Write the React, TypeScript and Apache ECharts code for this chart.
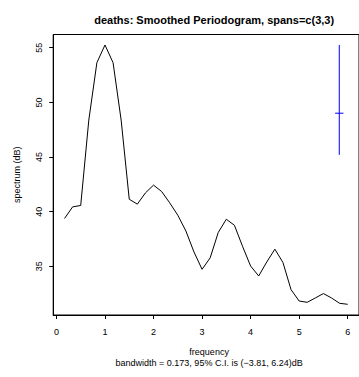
import React, { useEffect, useRef } from "react";
import * as echarts from "echarts";

const freq = [
  0.1667, 0.3333, 0.5, 0.6667, 0.8333, 1.0, 1.1667, 1.3333, 1.5, 1.6667, 1.8333, 2.0,
  2.1667, 2.3333, 2.5, 2.6667, 2.8333, 3.0, 3.1667, 3.3333, 3.5, 3.6667, 3.8333, 4.0,
  4.1667, 4.3333, 4.5, 4.6667, 4.8333, 5.0, 5.1667, 5.3333, 5.5, 5.6667, 5.8333, 6.0,
];
const spec = [
  39.38, 40.44, 40.57, 48.38, 53.63, 55.25, 53.63, 48.38, 41.14, 40.69, 41.72, 42.43,
  41.85, 40.81, 39.68, 38.24, 36.32, 34.73, 35.77, 38.1, 39.31, 38.76, 36.84, 35.03,
  34.12, 35.4, 36.57, 35.35, 32.87, 31.83, 31.71, 32.11, 32.51, 32.11, 31.62, 31.53,
];
const xTicks = [0, 1, 2, 3, 4, 5, 6];
const yTicks = [35, 40, 45, 50, 55];
const bandwidth = 0.173;
const ciLower = -3.81;
const ciUpper = 6.24;
const titleText = "deaths: Smoothed Periodogram, spans=c(3,3)";
const xLabel = "frequency";
const subText = "bandwidth = 0.173, 95% C.I. is (\u22123.81, 6.24)dB";
const yLabel = "spectrum (dB)";

const FONT = "'Liberation Sans', Arial, Helvetica, sans-serif";

export default function App() {
  const ref = useRef<HTMLDivElement>(null);
  useEffect(() => {
    if (!ref.current) return;
    const chart = echarts.init(ref.current, undefined, { renderer: "svg" });
    const maxSpec = Math.max(...spec);
    const maxFreq = Math.max(...freq);
    const ciX = maxFreq - bandwidth;
    const ciY = maxSpec - ciUpper;
    const gridLeft = 53.2;
    const gridTop = 34.5;
    const gridW = 311.85;
    const gridH = 280.5;
    chart.setOption({
      animation: false,
      backgroundColor: "#fff",
      title: {
        text: titleText,
        left: gridLeft + gridW / 2,
        textAlign: "center",
        top: 9,
        textStyle: { fontFamily: FONT, fontSize: 11, fontWeight: "bold", color: "#000" },
      },
      graphic: [
        {
          type: "text",
          x: gridLeft + gridW / 2,
          y: 352,
          style: {
            text: xLabel,
            fontFamily: FONT,
            fontSize: 9,
            fill: "#000",
            align: "center",
            verticalAlign: "middle",
          },
        },
        {
          type: "text",
          x: gridLeft + gridW / 2,
          y: 363,
          style: {
            text: subText,
            fontFamily: FONT,
            fontSize: 9,
            fill: "#000",
            align: "center",
            verticalAlign: "middle",
          },
        },
        {
          type: "text",
          x: 17,
          y: gridTop + gridH / 2,
          rotation: Math.PI / 2,
          style: {
            text: yLabel,
            fontFamily: FONT,
            fontSize: 9,
            fill: "#000",
            align: "center",
            verticalAlign: "middle",
          },
        },
      ],
      grid: {
        left: gridLeft,
        top: gridTop,
        width: gridW,
        height: gridH,
        show: true,
        borderColor: "#000",
        borderWidth: 1,
        backgroundColor: "transparent",
      },
      xAxis: {
        type: "value",
        min: -0.0667,
        max: 6.2333,
        splitLine: { show: false },
        axisLine: { show: true, onZero: false, lineStyle: { color: "#000", width: 1 } },
        axisTick: {
          show: true,
          customValues: xTicks,
          length: 4,
          lineStyle: { color: "#000" },
        },
        axisLabel: {
          customValues: xTicks,
          fontFamily: FONT,
          fontSize: 9,
          color: "#000",
          margin: 12,
        },
      },
      yAxis: {
        type: "value",
        min: 30.55,
        max: 56.21,
        splitLine: { show: false },
        axisLine: { show: true, onZero: false, lineStyle: { color: "#000", width: 1 } },
        axisTick: {
          show: true,
          customValues: yTicks,
          length: 4,
          lineStyle: { color: "#000" },
        },
        axisLabel: {
          customValues: yTicks,
          rotate: 90,
          fontFamily: FONT,
          fontSize: 9,
          color: "#000",
          margin: 10,
        },
      },
      series: [
        {
          type: "line",
          data: freq.map((f, i) => [f, spec[i]]),
          showSymbol: false,
          symbol: "none",
          lineStyle: { color: "#000", width: 1 },
          silent: true,
        },
        {
          type: "line",
          data: [
            [ciX, maxSpec + ciLower - ciUpper],
            [ciX, maxSpec],
          ],
          symbol: "none",
          lineStyle: { color: "#0000ff", width: 1 },
          silent: true,
        },
        {
          type: "line",
          data: [
            [ciX - bandwidth / 2, ciY],
            [ciX + bandwidth / 2, ciY],
          ],
          symbol: "none",
          lineStyle: { color: "#0000ff", width: 1 },
          silent: true,
        },
      ],
    });
    return () => chart.dispose();
  }, []);
  return (
    <div
      ref={ref}
      style={{ position: "fixed", left: 0, top: 0, width: 359, height: 377 }}
    />
  );
}
